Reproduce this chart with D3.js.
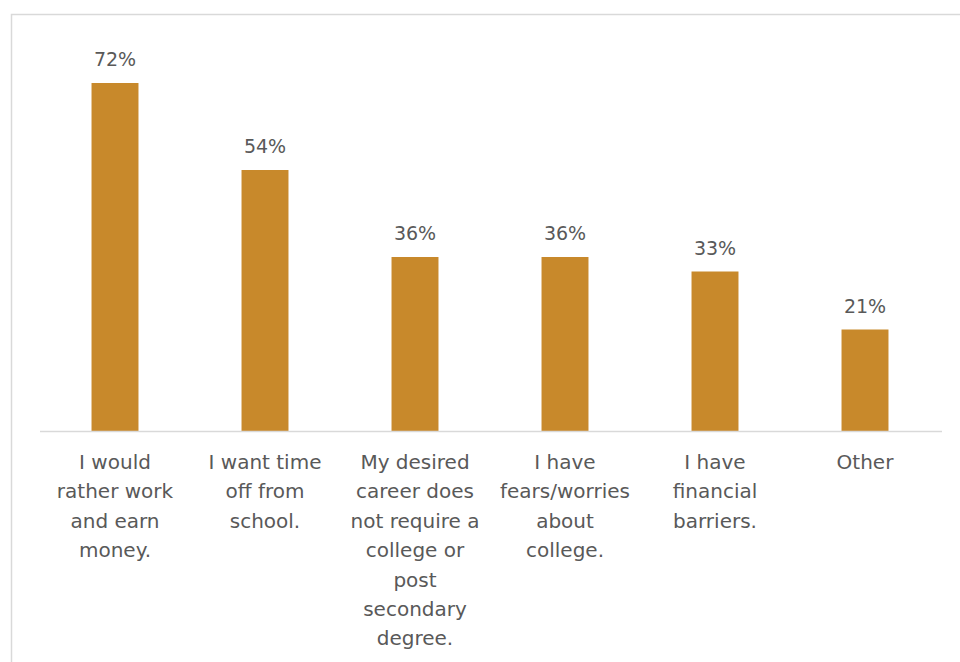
<!DOCTYPE html>
<html>
<head>
<meta charset="utf-8">
<script src="https://cdn.jsdelivr.net/npm/d3@7"></script>
<style>
  body { margin: 0; background: #fff; }
  text { font-family: "DejaVu Sans", sans-serif; fill: #595959; }
</style>
</head>
<body>
<div id="chart"></div>
<script>
// chart values
var categories = [
  "I would rather work and earn money.",
  "I want time off from school.",
  "My desired career does not require a college or post secondary degree.",
  "I have fears/worries about college.",
  "I have financial barriers.",
  "Other"
];
var labelLines = [
  ["I would", "rather work", "and earn", "money."],
  ["I want time", "off from", "school."],
  ["My desired", "career does", "not require a", "college or", "post", "secondary", "degree."],
  ["I have", "fears/worries", "about", "college."],
  ["I have", "financial", "barriers."],
  ["Other"]
];
var values = [72, 54, 36, 36, 33, 21];

var width = 960, height = 662;
var plot = { left: 40, right: 940, top: 83, base: 431 };

var svg = d3.select("#chart").append("svg")
  .attr("width", width)
  .attr("height", height);

// outer frame
svg.append("rect")
  .attr("x", 11.5)
  .attr("y", 14.5)
  .attr("width", 960)
  .attr("height", 700)
  .attr("fill", "none")
  .attr("stroke", "#d9d9d9")
  .attr("stroke-width", 1.5);

var x = d3.scaleBand()
  .domain(categories)
  .range([plot.left, plot.right])
  .paddingInner(0.687)
  .paddingOuter(0.3435);

var y = d3.scaleLinear()
  .domain([0, 72])
  .range([plot.base, plot.top]);

var data = categories.map(function(c, i) {
  return { name: c, value: values[i], lines: labelLines[i] };
});

svg.append("g").selectAll("rect")
  .data(data)
  .enter().append("rect")
  .attr("x", function(d) { return x(d.name); })
  .attr("y", function(d) { return y(d.value); })
  .attr("width", x.bandwidth())
  .attr("height", function(d) { return y(0) - y(d.value); })
  .attr("fill", "#c8892b");

// axis baseline
svg.append("line")
  .attr("x1", plot.left)
  .attr("x2", plot.right + 2)
  .attr("y1", plot.base + 0.5)
  .attr("y2", plot.base + 0.5)
  .attr("stroke", "#d9d9d9")
  .attr("stroke-width", 1.5);

// value labels
svg.append("g").selectAll("text")
  .data(data)
  .enter().append("text")
  .attr("x", function(d) { return x(d.name) + x.bandwidth() / 2; })
  .attr("y", function(d) { return y(d.value) - 17; })
  .attr("text-anchor", "middle")
  .attr("font-size", 19)
  .text(function(d) { return d.value + "%"; });

// category labels
var lineHeight = 29.4;
var cat = svg.append("g").selectAll("text")
  .data(data)
  .enter().append("text")
  .attr("text-anchor", "middle")
  .attr("font-size", 20);

cat.selectAll("tspan")
  .data(function(d) {
    return d.lines.map(function(l) { return { line: l, cx: x(d.name) + x.bandwidth() / 2 }; });
  })
  .enter().append("tspan")
  .attr("x", function(d) { return d.cx; })
  .attr("y", function(d, i) { return 469 + i * lineHeight; })
  .text(function(d) { return d.line; });
</script>
</body>
</html>
